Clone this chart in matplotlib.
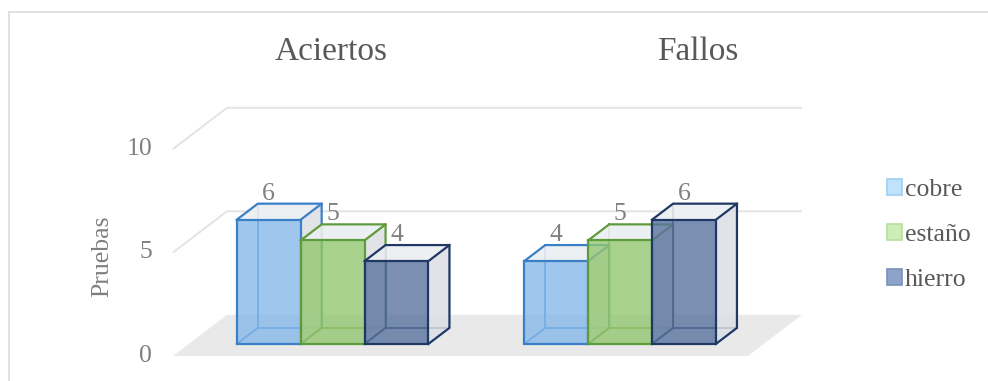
import matplotlib
matplotlib.use("Agg")
import matplotlib.pyplot as plt
from matplotlib.patches import Polygon, Patch
from matplotlib.lines import Line2D

# ---- data -------------------------------------------------------------
categories = ["Aciertos", "Fallos"]
series_names = ["cobre", "estaño", "hierro"]
cobre = [6, 4]
estano = [5, 5]
hierro = [4, 6]
y_ticks = [0, 5, 10]
y_label = "Pruebas"

values = [cobre, estano, hierro]

# ---- style ------------------------------------------------------------
front_colors = ["#87b9ea", "#94c772", "#5a739f"]
edge_colors = ["#3a80c6", "#5e9b3a", "#1f3864"]
legend_faces = ["#bfe3fb", "#cdeeb9", "#8ea3c9"]
legend_edges = ["#9dd0f2", "#b5e09b", "#7b92bd"]
side_color = "#dcdfe4"
top_color = "#eceff2"
floor_color = "#e9e9e9"
grid_color = "#e3e3e3"
serif = ["Liberation Serif", "DejaVu Serif"]

# oblique depth of the plot box (category units, value units)
DX, DY = 0.1878, 1.99
# bars occupy this slice of the depth
Z0, Z1 = 0.293, 0.683
BAR_W = 2 / 9

fig = plt.figure(figsize=(9.88, 3.81), dpi=100)
ax = fig.add_axes([0, 0, 1, 1])
ax.set_xlim(-0.6017, 2.8348)
ax.set_ylim(-1.2077, 17.198)
ax.axis("off")

n_cat = len(categories)

# floor
ax.add_patch(Polygon([(0, 0), (n_cat, 0), (n_cat + DX, DY), (DX, DY)],
                     closed=True, facecolor=floor_color, edgecolor="none", zorder=0))

# gridlines on the side and back walls
for t in y_ticks[1:]:
    ax.plot([0, DX, n_cat + DX], [t, t + DY, t + DY], color=grid_color, lw=1.4,
            zorder=0.5, solid_capstyle="butt")

# tick labels on the front-left edge
for t in y_ticks:
    ax.annotate(str(t), xy=(0, t), xytext=(-21, 0), textcoords="offset pixels",
                ha="right", va="center", fontsize=18.5, color="#7f7f7f", family=serif)

ax.text(-0.247, 4.8, y_label, rotation=90, ha="center", va="center",
        fontsize=18.5, color="#7f7f7f", family=serif)

# 3-D style boxes
for i, vals in enumerate(values):
    ec = edge_colors[i]
    zb = 2 + i
    for c, v in enumerate(vals):
        xl = c + 0.5 - 1.5 * BAR_W + i * BAR_W + Z0 * DX
        b = Z0 * DY
        dx, dy = (Z1 - Z0) * DX, (Z1 - Z0) * DY
        fbl, fbr = (xl, b), (xl + BAR_W, b)
        ftl, ftr = (xl, b + v), (xl + BAR_W, b + v)
        bbl, bbr = (xl + dx, b + dy), (xl + BAR_W + dx, b + dy)
        btl, btr = (xl + dx, b + v + dy), (xl + BAR_W + dx, b + v + dy)
        # edges seen through the translucent faces
        for p, q in [(bbl, btl), (bbl, bbr), (fbl, bbl)]:
            ax.plot([p[0], q[0]], [p[1], q[1]], color=ec, lw=1.3, zorder=zb)
        ax.add_patch(Polygon([fbr, bbr, btr, ftr], closed=True, facecolor=side_color,
                             alpha=0.85, edgecolor="none", zorder=zb + 0.1))
        ax.add_patch(Polygon([ftl, ftr, btr, btl], closed=True, facecolor=top_color,
                             alpha=0.9, edgecolor="none", zorder=zb + 0.1))
        ax.plot([fbr[0], bbr[0], btr[0], btl[0], ftl[0]],
                [fbr[1], bbr[1], btr[1], btl[1], ftl[1]],
                color=ec, lw=1.6, zorder=zb + 0.2)
        ax.plot([ftr[0], btr[0]], [ftr[1], btr[1]], color=ec, lw=1.6, zorder=zb + 0.2)
        ax.bar(xl, v, width=BAR_W, bottom=b, align="edge", color=front_colors[i],
               alpha=0.8, edgecolor="none", zorder=zb + 0.3)
        ax.bar(xl, v, width=BAR_W, bottom=b, align="edge", facecolor="none",
               edgecolor=ec, lw=1.6, zorder=zb + 0.4)
        ax.annotate(str(v), xy=(xl + BAR_W / 2, b + v + dy), xytext=(0, 10),
                    textcoords="offset pixels", ha="center", va="center",
                    fontsize=18.5, color="#808080", family=serif, zorder=10)

# category titles above the plot box
title_x = [0.55, 1.826]
for name, x in zip(categories, title_x):
    ax.text(x, 14.69, name, ha="center", va="center", fontsize=24,
            color="#595959", family=serif)

handles = [Patch(facecolor=legend_faces[i], edgecolor=legend_edges[i], lw=1.2)
           for i in range(len(series_names))]
fig.legend(handles, series_names, loc="center left", bbox_to_anchor=(0.898, 0.383),
           frameon=False, borderpad=0, borderaxespad=0, handlelength=0.57,
           handleheight=0.57, handletextpad=0.12, labelspacing=0.9,
           prop={"family": serif, "size": 18.5}, labelcolor="#595959")

# chart area border (top and left edges)
fig.add_artist(Line2D([8.5 / 988, 1], [1 - 12 / 381, 1 - 12 / 381],
                      transform=fig.transFigure, color="#d9d9d9", lw=1.1))
fig.add_artist(Line2D([8.5 / 988, 8.5 / 988], [0, 1 - 12 / 381],
                      transform=fig.transFigure, color="#d9d9d9", lw=1.1))

fig.savefig("out.png", dpi=100)
